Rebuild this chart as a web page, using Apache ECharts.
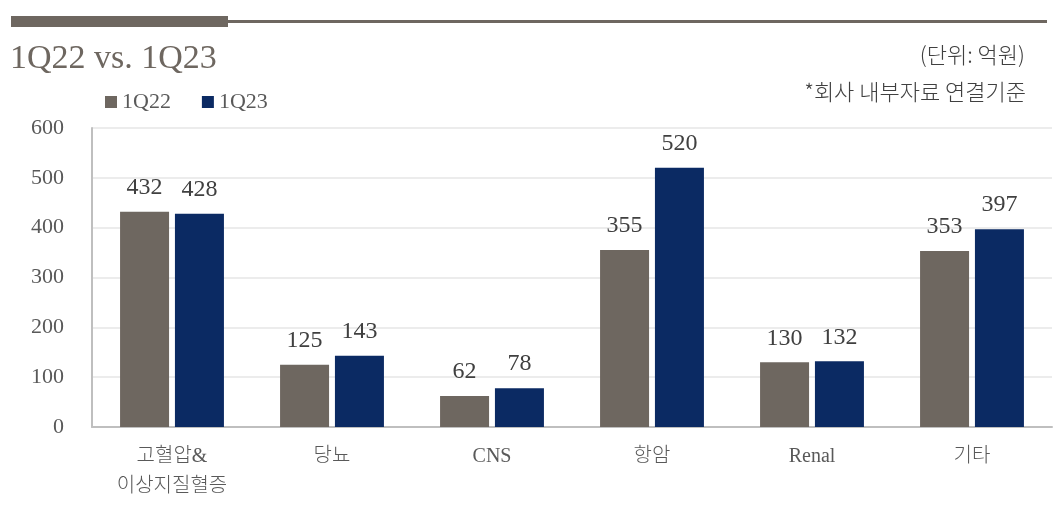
<!DOCTYPE html>
<html><head><meta charset="utf-8">
<script src="https://cdn.jsdelivr.net/npm/echarts@6/dist/echarts.min.js"></script>
<style>html,body{margin:0;padding:0;background:#fff}#c{width:1063px;height:510px}</style>
</head><body><div id="c"></div>
<script>
const categories = ['고혈압&\n이상지질혈증', '당뇨', 'CNS', '항암', 'Renal', '기타'];
const series1Name = '1Q22';
const series2Name = '1Q23';
const values1Q22 = [432, 125, 62, 355, 130, 353];
const values1Q23 = [428, 143, 78, 520, 132, 397];
const yTicks = [0, 100, 200, 300, 400, 500, 600];

const FONT = "'Liberation Serif', 'Noto Sans CJK KR', serif";
const KFONT = "'Noto Sans CJK KR', sans-serif";
const GRAY = '#6e6760';
const NAVY = '#0b2a63';
const TXT = '#595959';

const chart = echarts.init(document.getElementById('c'));
chart.setOption({
  animation: false,
  backgroundColor: '#fff',
  graphic: [
    { type: 'rect', shape: { x: 11, y: 16, width: 217, height: 11 }, style: { fill: GRAY } },
    { type: 'rect', shape: { x: 228, y: 20, width: 819, height: 3 }, style: { fill: GRAY } },
    { type: 'text', left: 10, top: 42, style: { text: '1Q22 vs. 1Q23', font: "34px " + FONT, fill: GRAY } },
    { type: 'text', right: 38, top: 44, style: { text: '(단위: 억원)', font: "300 22px " + KFONT, fill: '#404040', textAlign: 'right' } },
    { type: 'text', right: 37, top: 81, style: { text: '*회사 내부자료 연결기준', font: "300 22px " + KFONT, fill: '#404040', textAlign: 'right' } }
  ],
  legend: {
    left: 100, top: 86, itemWidth: 12, itemHeight: 12, itemGap: 31,
    icon: 'rect',
    textStyle: { fontFamily: FONT, fontSize: 22, color: TXT, padding: [0, 0, 0, 0] },
    data: [series1Name, series2Name]
  },
  grid: { left: 92, right: 11, top: 128, bottom: 83, containLabel: false },
  xAxis: {
    type: 'category', data: categories,
    axisLine: { lineStyle: { color: '#bfbfbf', width: 2 } },
    axisTick: { show: false },
    axisLabel: { fontFamily: FONT, fontWeight: 300, fontSize: 20, color: TXT, margin: 15, lineHeight: 30, interval: 0 }
  },
  yAxis: {
    type: 'value', min: 0, max: 600, interval: 100,
    axisLine: { show: true, lineStyle: { color: '#bfbfbf', width: 2 } },
    axisTick: { show: false },
    splitLine: { lineStyle: { color: '#ececec', width: 2 } },
    axisLabel: { fontFamily: FONT, fontSize: 22, color: TXT, margin: 28,
      formatter: v => yTicks.includes(v) ? String(v) : '' }
  },
  series: [
    { name: series1Name, type: 'bar', data: values1Q22, barWidth: 49, barGap: '12%',
      itemStyle: { color: GRAY },
      label: { show: true, position: 'top', distance: 12, fontFamily: FONT, fontSize: 24, color: '#404040' } },
    { name: series2Name, type: 'bar', data: values1Q23, barWidth: 49,
      itemStyle: { color: NAVY },
      label: { show: true, position: 'top', distance: 12, fontFamily: FONT, fontSize: 24, color: '#404040' } }
  ]
});
</script></body></html>
